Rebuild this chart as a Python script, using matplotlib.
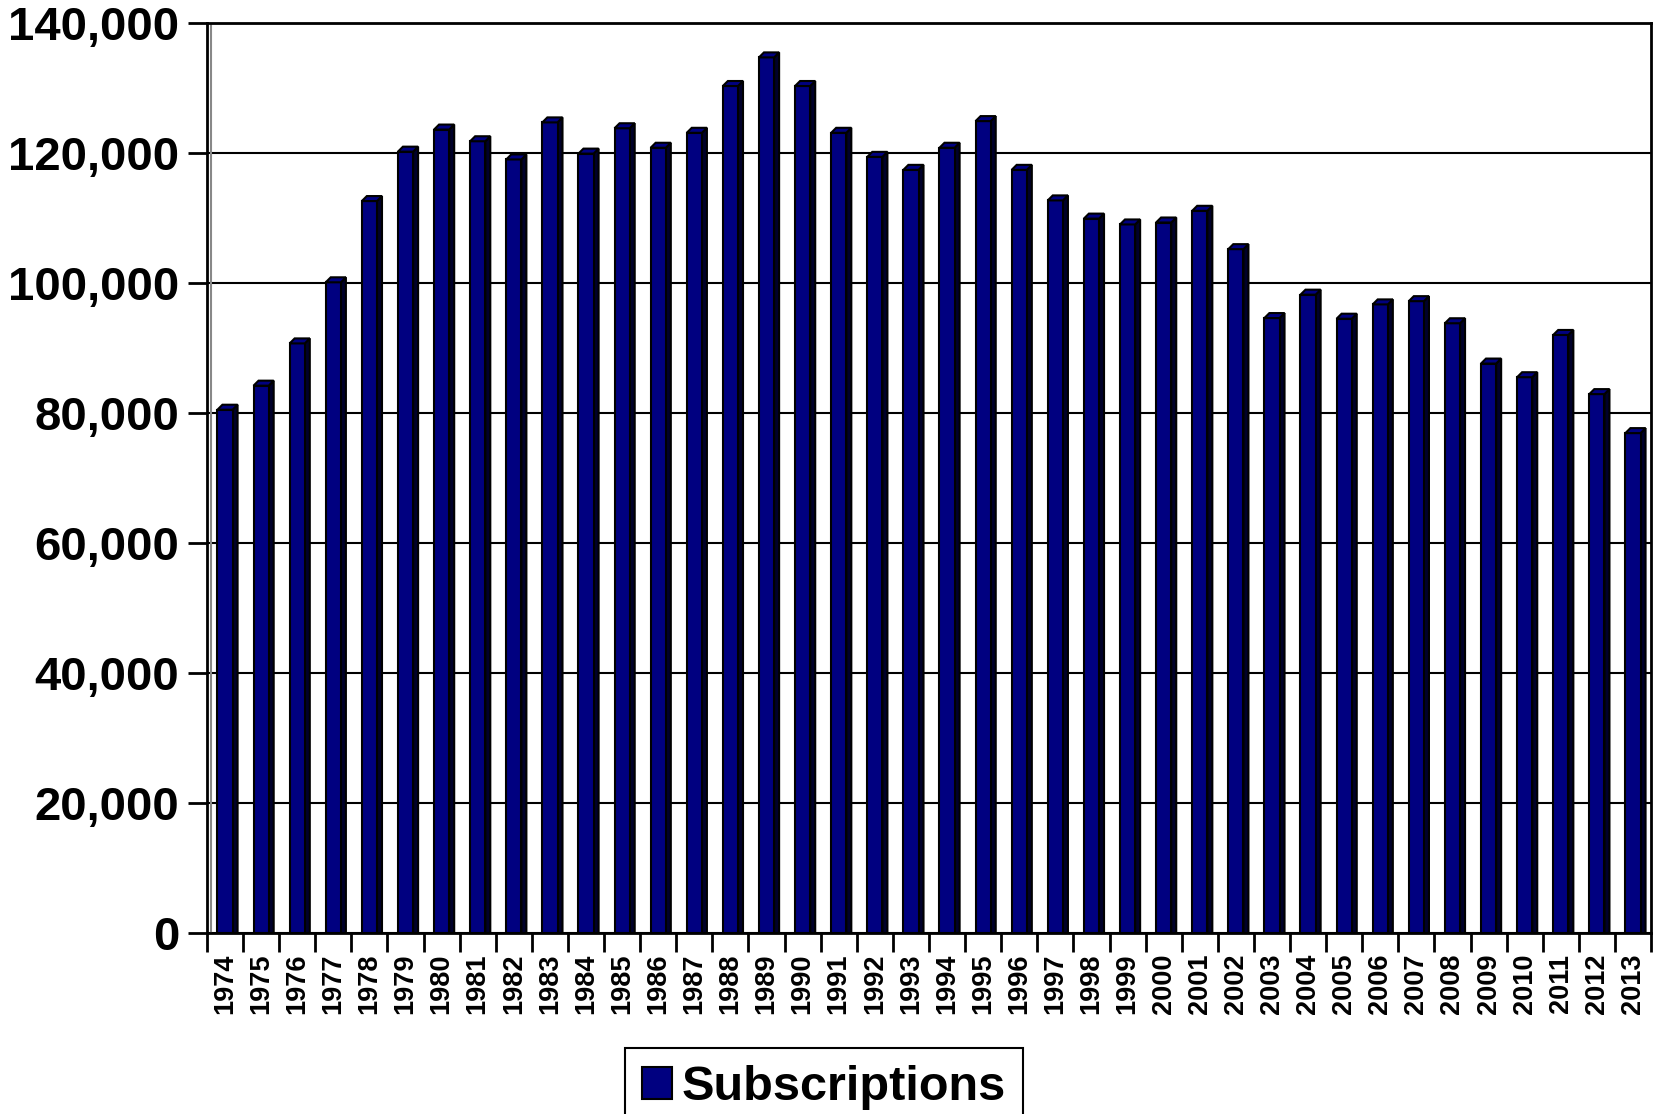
import matplotlib
matplotlib.use('Agg')
import matplotlib.pyplot as plt
import matplotlib.transforms as mtransforms
from matplotlib.patches import Polygon, Patch
from matplotlib import font_manager
from matplotlib.ticker import FuncFormatter

# Abonnements par année
years = list(range(1974, 2014))
subscriptions = [
    80500, 84200, 90700, 100100, 112600, 120200, 123600, 121800, 119000, 124700,
    119900, 123800, 120800, 123100, 130300, 134700, 130300, 123100, 119400, 117400,
    120800, 124900, 117400, 112700, 109900, 109000, 109300, 111100, 105200, 94600,
    98200, 94500, 96700, 97200, 93800, 87600, 85500, 92000, 82900, 76900,
]
y_ticks = [0, 20000, 40000, 60000, 80000, 100000, 120000, 140000]
series_name = 'Subscriptions'

# police étroite pour les années si dispo
try:
    font_manager.findfont(font_manager.FontProperties(family='Liberation Sans Narrow', weight='bold'),
                          fallback_to_default=False)
    year_font, year_size = 'Liberation Sans Narrow', 23
except Exception:
    year_font, year_size = 'Liberation Sans', 19.5

plt.rcParams['font.family'] = ['Liberation Sans', 'DejaVu Sans']

fig = plt.figure(figsize=(16.61, 11.14), dpi=100)
ax = fig.add_axes([0.1246, 0.1625, 0.994 - 0.1246, 0.9794 - 0.1625])

n = len(years)
x = list(range(n))
w = 0.42
front = '#000080'
side = '#00002a'

ax.set_xlim(-0.5, n - 0.5)
ax.set_ylim(0, 140000)
ax.set_axisbelow(True)
ax.yaxis.grid(True, color='black', linewidth=1.5)

ax.bar(x, subscriptions, width=w, color=front, edgecolor='black', linewidth=1.5, zorder=3)

# faces 3D (dessus + côté) en pixels
dx, dy = 5, 5
ident = mtransforms.IdentityTransform()
for xi, v in zip(x, subscriptions):
    (x0, y0), (x1, yv) = ax.transData.transform([(xi - w / 2, 0), (xi + w / 2, v)])
    side_poly = Polygon([(x1, y0), (x1, yv), (x1 + dx, yv + dy), (x1 + dx, y0)],
                        closed=True, facecolor=side, edgecolor='black', linewidth=1.5,
                        transform=ident, zorder=2.9)
    top_poly = Polygon([(x0, yv), (x1, yv), (x1 + dx, yv + dy), (x0 + dx, yv + dy)],
                       closed=True, facecolor=front, edgecolor='black', linewidth=1.5,
                       transform=ident, zorder=3.1)
    ax.add_patch(side_poly)
    ax.add_patch(top_poly)

# ligne du mur à gauche
wall = ax.transData + mtransforms.ScaledTranslation(4 / 100, 0, fig.dpi_scale_trans)
ax.plot([-0.5, -0.5], [0, 140000], color='#888888', linewidth=1.5, transform=wall, zorder=1)

for s in ax.spines.values():
    s.set_linewidth(2)
    s.set_color('black')

ax.set_yticks(y_ticks)
ax.yaxis.set_major_formatter(FuncFormatter(lambda v, p: f'{int(v):,}'))
ax.tick_params(axis='y', length=14, width=2, pad=6, labelsize=34)
for lab in ax.get_yticklabels():
    lab.set_fontweight('bold')

ax.set_xticks(x)
ax.set_xticklabels([str(yr) for yr in years], rotation=90, fontsize=year_size,
                   fontweight='bold', family=year_font)
ax.tick_params(axis='x', which='major', length=0, pad=15)
ax.set_xticks([i - 0.5 for i in range(n + 1)], minor=True)
ax.tick_params(axis='x', which='minor', length=14, width=2)

leg = fig.legend(handles=[Patch(facecolor=front, edgecolor='black', linewidth=1.5, label=series_name)],
                 loc='upper center', bbox_to_anchor=(0.496, 1 - 1048 / 1114),
                 fancybox=False, frameon=True, edgecolor='black',
                 prop={'weight': 'bold', 'size': 35},
                 handlelength=0.62, handleheight=0.62, handletextpad=0.2,
                 borderpad=0.35, borderaxespad=0)
leg.get_frame().set_linewidth(1.5)
leg.get_frame().set_alpha(1)

fig.savefig('out.png', dpi=100)
